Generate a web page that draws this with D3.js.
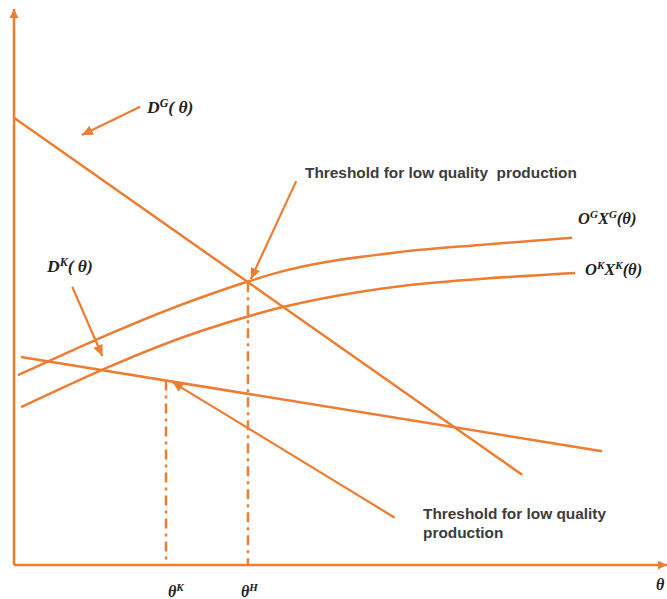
<!DOCTYPE html>
<html>
<head>
<meta charset="utf-8">
<script src="https://cdn.jsdelivr.net/npm/d3@7"></script>
<style>
    body { margin: 0; background: #fff; }
    .curve { fill: none; stroke: #ED7D31; stroke-width: 2.5; }
    .axis { fill: none; stroke: #ED7D31; stroke-width: 2.5; }
    .guide { fill: none; stroke: #ED7D31; stroke-width: 2.5; stroke-dasharray: 10,5,3,5; }
    .pointer { fill: none; stroke: #ED7D31; stroke-width: 2.2; }
    .note { font-family: "Liberation Sans", Arial, sans-serif; font-weight: bold; font-size: 15.4px; fill: #3c3c3c; }
    .math { font-family: "Liberation Serif", "Times New Roman", serif; font-weight: bold; font-style: italic; fill: #222; }
</style>
</head>
<body>
<div id="chart"></div>
<script>
// theta runs 0..10 on the x axis, value 0..10 on the y axis
var demandG = [[0, 8.13], [7.94, 1.64]];
var demandK = [[0.11, 3.78], [9.19, 2.07]];
var supplyG = [[0.06, 3.45], [2.91, 4.86], [3.67, 5.16], [4.16, 5.33], [6.03, 5.69], [7.28, 5.82], [8.72, 5.95]];
var supplyK = [[0.11, 2.87], [2.91, 4.25], [4.20, 4.69], [6.03, 5.07], [7.28, 5.20], [8.77, 5.31]];
var thetaK = 2.375;
var thetaH = 3.656;

var width = 667, height = 599;
var originX = 14, originY = 565;

var x = d3.scaleLinear().domain([0, 10]).range([originX, originX + 640]);
var y = d3.scaleLinear().domain([0, 10]).range([originY, originY - 550]);

var svg = d3.select("#chart").append("svg")
    .attr("width", width)
    .attr("height", height);

var defs = svg.append("defs");
function addHead(id, len, half) {
    defs.append("marker")
        .attr("id", id)
        .attr("viewBox", "0 0 " + len + " " + (half * 2))
        .attr("refX", len)
        .attr("refY", half)
        .attr("markerWidth", len)
        .attr("markerHeight", half * 2)
        .attr("markerUnits", "userSpaceOnUse")
        .attr("orient", "auto")
        .append("path")
        .attr("d", "M0,0L" + len + "," + half + "L0," + (half * 2) + "Z")
        .attr("fill", "#ED7D31");
}
addHead("head", 11, 5);
addHead("axisHead", 9, 4.5);

// axes
svg.append("line").attr("class", "axis")
    .attr("x1", x(0)).attr("y1", y(0)).attr("x2", x(0)).attr("y2", 9)
    .attr("marker-end", "url(#axisHead)");
svg.append("line").attr("class", "axis")
    .attr("x1", x(0)).attr("y1", y(0)).attr("x2", width).attr("y2", y(0))
    .attr("marker-end", "url(#axisHead)");

var straight = d3.line()
    .x(function (d) { return x(d[0]); })
    .y(function (d) { return y(d[1]); });
var smooth = d3.line()
    .x(function (d) { return x(d[0]); })
    .y(function (d) { return y(d[1]); })
    .curve(d3.curveMonotoneX);

svg.append("path").attr("class", "curve").attr("d", straight(demandG));
svg.append("path").attr("class", "curve").attr("d", straight(demandK));
svg.append("path").attr("class", "curve").attr("d", smooth(supplyG));
svg.append("path").attr("class", "curve").attr("d", smooth(supplyK));

// value of a straight line at a given theta
function lineAt(pts, t) {
    return d3.scaleLinear().domain([pts[0][0], pts[1][0]]).range([pts[0][1], pts[1][1]])(t);
}

// dash-dot guides down to the theta axis
svg.append("line").attr("class", "guide")
    .attr("x1", x(thetaH)).attr("y1", y(lineAt(demandG, thetaH)))
    .attr("x2", x(thetaH)).attr("y2", y(0));
svg.append("line").attr("class", "guide")
    .attr("x1", x(thetaK)).attr("y1", y(lineAt(demandK, thetaK)))
    .attr("x2", x(thetaK)).attr("y2", y(0));

// pointer arrows (from, to) in chart units
var pointers = [
    [[1.97, 8.33], [1.06, 7.82]],
    [[0.91, 5.06], [1.38, 3.80]],
    [[4.41, 6.98], [3.70, 5.20]],
    [[5.95, 0.86], [2.47, 3.33]]
];
pointers.forEach(function (p) {
    svg.append("line").attr("class", "pointer")
        .attr("x1", x(p[0][0])).attr("y1", y(p[0][1]))
        .attr("x2", x(p[1][0])).attr("y2", y(p[1][1]))
        .attr("marker-end", "url(#head)");
});

// text notes
svg.append("text").attr("class", "note")
    .attr("x", 305).attr("y", 178)
    .text("Threshold for low quality\u00a0 production");
svg.append("text").attr("class", "note")
    .attr("x", 423).attr("y", 519)
    .text("Threshold for low quality");
svg.append("text").attr("class", "note")
    .attr("x", 423).attr("y", 538)
    .text("production");

// math labels: list of [base, superscript]
function mathLabel(px, py, parts, size) {
    var t = svg.append("text").attr("class", "math")
        .attr("x", px).attr("y", py)
        .style("font-size", size + "px");
    var back = 0;
    parts.forEach(function (p) {
        t.append("tspan").attr("dy", back).text(p[0]);
        back = 0;
        if (p[1]) {
            t.append("tspan").attr("dy", -6)
                .style("font-size", Math.round(size * 0.68) + "px").text(p[1]);
            back = 6;
        }
    });
}
mathLabel(147, 113, [["D", "G"], ["( \u03b8)"]], 17.5);
mathLabel(47, 272, [["D", "K"], ["( \u03b8)"]], 17.5);
mathLabel(578, 224, [["O", "G"], ["X", "G"], ["(\u03b8)"]], 16.5);
mathLabel(585, 275, [["O", "K"], ["X", "K"], ["(\u03b8)"]], 16.5);
mathLabel(168, 597, [["\u03b8", "K"]], 16);
mathLabel(241, 597, [["\u03b8", "H"]], 16);
mathLabel(656, 590, [["\u03b8"]], 16);
</script>
</body>
</html>
